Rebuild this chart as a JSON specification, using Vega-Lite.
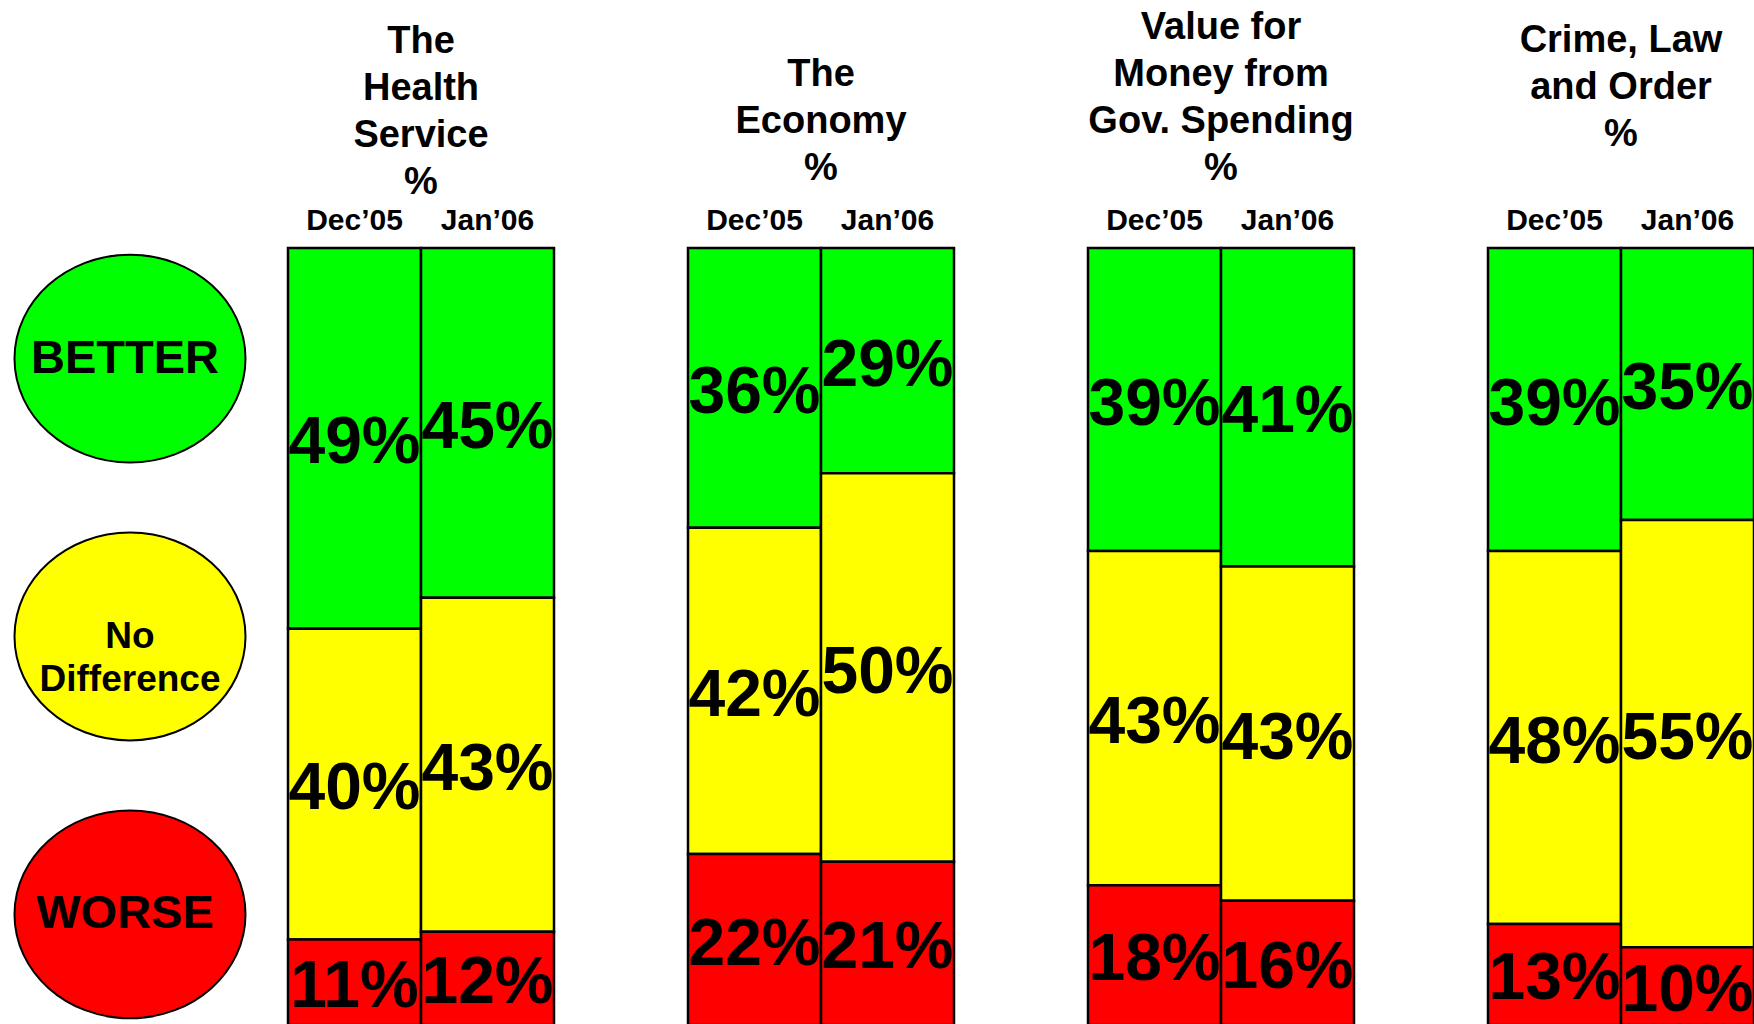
{
  "$schema": "https://vega.github.io/schema/vega-lite/v6.json",
  "background": "white",
  "padding": {"left": 10, "top": 9, "right": 0, "bottom": 0},
  "autosize": {"type": "pad"},
  "bounds": "flush",
  "spacing": 134,
  "config": {
    "view": {"stroke": null},
    "font": "Liberation Sans",
    "title": {"font": "Liberation Sans", "fontSize": 38, "fontWeight": "bold", "lineHeight": 47, "color": "black", "anchor": "middle"},
    "axis": {"labelFont": "Liberation Sans", "labelFontSize": 30, "labelFontWeight": "bold", "labelColor": "black", "labelAngle": 0, "domain": false, "ticks": false, "labelPadding": 13, "title": null}
  },
  "datasets": {
    "survey": [
      {"topic": "Health", "month": "Dec’05", "response": "BETTER", "pct": 49},
      {"topic": "Health", "month": "Dec’05", "response": "No Difference", "pct": 40},
      {"topic": "Health", "month": "Dec’05", "response": "WORSE", "pct": 11},
      {"topic": "Health", "month": "Jan’06", "response": "BETTER", "pct": 45},
      {"topic": "Health", "month": "Jan’06", "response": "No Difference", "pct": 43},
      {"topic": "Health", "month": "Jan’06", "response": "WORSE", "pct": 12},
      {"topic": "Economy", "month": "Dec’05", "response": "BETTER", "pct": 36},
      {"topic": "Economy", "month": "Dec’05", "response": "No Difference", "pct": 42},
      {"topic": "Economy", "month": "Dec’05", "response": "WORSE", "pct": 22},
      {"topic": "Economy", "month": "Jan’06", "response": "BETTER", "pct": 29},
      {"topic": "Economy", "month": "Jan’06", "response": "No Difference", "pct": 50},
      {"topic": "Economy", "month": "Jan’06", "response": "WORSE", "pct": 21},
      {"topic": "Value", "month": "Dec’05", "response": "BETTER", "pct": 39},
      {"topic": "Value", "month": "Dec’05", "response": "No Difference", "pct": 43},
      {"topic": "Value", "month": "Dec’05", "response": "WORSE", "pct": 18},
      {"topic": "Value", "month": "Jan’06", "response": "BETTER", "pct": 41},
      {"topic": "Value", "month": "Jan’06", "response": "No Difference", "pct": 43},
      {"topic": "Value", "month": "Jan’06", "response": "WORSE", "pct": 16},
      {"topic": "Crime", "month": "Dec’05", "response": "BETTER", "pct": 39},
      {"topic": "Crime", "month": "Dec’05", "response": "No Difference", "pct": 48},
      {"topic": "Crime", "month": "Dec’05", "response": "WORSE", "pct": 13},
      {"topic": "Crime", "month": "Jan’06", "response": "BETTER", "pct": 35},
      {"topic": "Crime", "month": "Jan’06", "response": "No Difference", "pct": 55},
      {"topic": "Crime", "month": "Jan’06", "response": "WORSE", "pct": 10}
    ],
    "legend": [
      {"response": "BETTER", "label": "BETTER"},
      {"response": "No Difference", "label": "No\nDifference"},
      {"response": "WORSE", "label": "WORSE"}
    ]
  },
  "hconcat": [
    {
      "width": 48, "height": 777,
      "data": {"name": "legend"},
      "encoding": {
        "y": {"field": "response", "type": "nominal", "scale": {"type": "point", "domain": ["BETTER", "No Difference", "WORSE"], "padding": 0.398}, "axis": null}
      },
      "layer": [
        {
          "mark": {"type": "point", "shape": "M -1 0 C -1 -0.497 -0.552 -0.9 0 -0.9 C 0.552 -0.9 1 -0.497 1 0 C 1 0.497 0.552 0.9 0 0.9 C -0.552 0.9 -1 0.497 -1 0 Z", "size": 53361, "filled": true, "stroke": "black", "strokeWidth": 2, "opacity": 1},
          "encoding": {"fill": {"field": "response", "type": "nominal", "scale": {"domain": ["BETTER", "No Difference", "WORSE"], "range": ["#00ff00", "#ffff00", "#ff0000"]}, "legend": null}}
        },
        {
          "transform": [{"filter": "datum.response !== 'No Difference'"}],
          "mark": {"type": "text", "fontSize": 47, "fontWeight": "bold", "baseline": "middle", "align": "center", "color": "black", "dx": -5},
          "encoding": {"text": {"field": "label"}}
        },
        {
          "transform": [{"filter": "datum.response === 'No Difference'"}],
          "mark": {"type": "text", "fontSize": 37, "fontWeight": "bold", "baseline": "middle", "align": "center", "color": "black", "lineBreak": "\n", "lineHeight": 43},
          "encoding": {"text": {"field": "label"}}
        }
      ]
    },
    {
      "width": 266, "height": 777,
      "title": {"text": ["The", "Health", "Service", "%"], "offset": 3},
      "data": {"name": "survey"},
      "transform": [{"filter": "datum.topic === 'Health'"}],
      "encoding": {
        "x": {"field": "month", "type": "nominal", "sort": ["Dec’05", "Jan’06"], "scale": {"paddingInner": 0, "paddingOuter": 0}, "axis": {"orient": "top"}},
        "y": {"field": "pct", "type": "quantitative", "stack": "zero", "scale": {"domain": [0, 100]}, "axis": null},
        "order": {"field": "response", "sort": "descending"}
      },
      "layer": [
        {"mark": {"type": "bar", "stroke": "black", "strokeWidth": 2.5},
         "encoding": {"color": {"field": "response", "type": "nominal", "scale": {"domain": ["BETTER", "No Difference", "WORSE"], "range": ["#00ff00", "#ffff00", "#ff0000"]}, "legend": null}}},
        {"mark": {"type": "text", "fontSize": 66, "fontWeight": "bold", "baseline": "middle", "align": "center", "color": "black", "dy": 5, "text": {"expr": "datum.pct + '%'"}},
         "encoding": {"y": {"field": "pct", "type": "quantitative", "stack": "zero", "bandPosition": 0.5, "scale": {"domain": [0, 100]}, "axis": null}, "detail": {"field": "response"}}}
      ]
    },
    {
      "width": 266, "height": 777,
      "title": {"text": ["The", "Economy", "%"], "offset": 17},
      "data": {"name": "survey"},
      "transform": [{"filter": "datum.topic === 'Economy'"}],
      "encoding": {
        "x": {"field": "month", "type": "nominal", "sort": ["Dec’05", "Jan’06"], "scale": {"paddingInner": 0, "paddingOuter": 0}, "axis": {"orient": "top"}},
        "y": {"field": "pct", "type": "quantitative", "stack": "zero", "scale": {"domain": [0, 100]}, "axis": null},
        "order": {"field": "response", "sort": "descending"}
      },
      "layer": [
        {"mark": {"type": "bar", "stroke": "black", "strokeWidth": 2.5},
         "encoding": {"color": {"field": "response", "type": "nominal", "scale": {"domain": ["BETTER", "No Difference", "WORSE"], "range": ["#00ff00", "#ffff00", "#ff0000"]}, "legend": null}}},
        {"mark": {"type": "text", "fontSize": 66, "fontWeight": "bold", "baseline": "middle", "align": "center", "color": "black", "dy": 5, "text": {"expr": "datum.pct + '%'"}},
         "encoding": {"y": {"field": "pct", "type": "quantitative", "stack": "zero", "bandPosition": 0.5, "scale": {"domain": [0, 100]}, "axis": null}, "detail": {"field": "response"}}}
      ]
    },
    {
      "width": 266, "height": 777,
      "title": {"text": ["Value for", "Money from", "Gov. Spending", "%"], "offset": 17},
      "data": {"name": "survey"},
      "transform": [{"filter": "datum.topic === 'Value'"}],
      "encoding": {
        "x": {"field": "month", "type": "nominal", "sort": ["Dec’05", "Jan’06"], "scale": {"paddingInner": 0, "paddingOuter": 0}, "axis": {"orient": "top"}},
        "y": {"field": "pct", "type": "quantitative", "stack": "zero", "scale": {"domain": [0, 100]}, "axis": null},
        "order": {"field": "response", "sort": "descending"}
      },
      "layer": [
        {"mark": {"type": "bar", "stroke": "black", "strokeWidth": 2.5},
         "encoding": {"color": {"field": "response", "type": "nominal", "scale": {"domain": ["BETTER", "No Difference", "WORSE"], "range": ["#00ff00", "#ffff00", "#ff0000"]}, "legend": null}}},
        {"mark": {"type": "text", "fontSize": 66, "fontWeight": "bold", "baseline": "middle", "align": "center", "color": "black", "dy": 5, "text": {"expr": "datum.pct + '%'"}},
         "encoding": {"y": {"field": "pct", "type": "quantitative", "stack": "zero", "bandPosition": 0.5, "scale": {"domain": [0, 100]}, "axis": null}, "detail": {"field": "response"}}}
      ]
    },
    {
      "width": 266, "height": 777,
      "title": {"text": ["Crime, Law", "and Order", "%"], "offset": 51},
      "data": {"name": "survey"},
      "transform": [{"filter": "datum.topic === 'Crime'"}],
      "encoding": {
        "x": {"field": "month", "type": "nominal", "sort": ["Dec’05", "Jan’06"], "scale": {"paddingInner": 0, "paddingOuter": 0}, "axis": {"orient": "top"}},
        "y": {"field": "pct", "type": "quantitative", "stack": "zero", "scale": {"domain": [0, 100]}, "axis": null},
        "order": {"field": "response", "sort": "descending"}
      },
      "layer": [
        {"mark": {"type": "bar", "stroke": "black", "strokeWidth": 2.5},
         "encoding": {"color": {"field": "response", "type": "nominal", "scale": {"domain": ["BETTER", "No Difference", "WORSE"], "range": ["#00ff00", "#ffff00", "#ff0000"]}, "legend": null}}},
        {"mark": {"type": "text", "fontSize": 66, "fontWeight": "bold", "baseline": "middle", "align": "center", "color": "black", "dy": 5, "text": {"expr": "datum.pct + '%'"}},
         "encoding": {"y": {"field": "pct", "type": "quantitative", "stack": "zero", "bandPosition": 0.5, "scale": {"domain": [0, 100]}, "axis": null}, "detail": {"field": "response"}}}
      ]
    }
  ]
}
